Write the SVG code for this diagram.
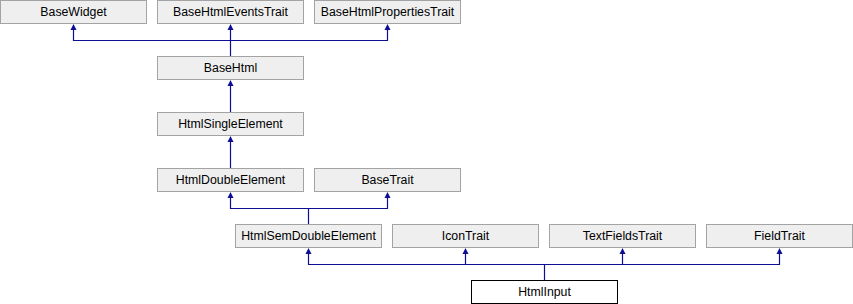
<svg xmlns="http://www.w3.org/2000/svg" width="853" height="304" viewBox="0 0 853 304">
  <style>
    .box { fill: #efefef; stroke: #a3a3a3; stroke-width: 1; }
    .main { fill: #ffffff; stroke: #000000; stroke-width: 1; }
    .label { font-family: "Liberation Sans", Arial, sans-serif; font-size: 12.3px; fill: #000000; text-anchor: middle; }
    .edge { fill: none; stroke: #0e0e92; stroke-width: 1.2; }
    .head { fill: #0e0e92; }
  </style>
  <defs>
    <!-- inheritance arrowhead, tip at origin pointing up -->
    <path id="arrow" d="M0,0 L3,6 L-3,6 Z"/>
  </defs>

  <!-- row 1 -->
  <g id="BaseWidget">
    <rect class="box" x="0.5" y="0.5" width="146" height="23"/>
    <text class="label" x="73.5" y="15.6">BaseWidget</text>
  </g>
  <g id="BaseHtmlEventsTrait">
    <rect class="box" x="157.5" y="0.5" width="146" height="23"/>
    <text class="label" x="230.5" y="15.6">BaseHtmlEventsTrait</text>
  </g>
  <g id="BaseHtmlPropertiesTrait">
    <rect class="box" x="314.5" y="0.5" width="146" height="23"/>
    <text class="label" x="387.5" y="15.6">BaseHtmlPropertiesTrait</text>
  </g>

  <!-- row 2 -->
  <g id="BaseHtml">
    <rect class="box" x="157.5" y="56.5" width="146" height="23"/>
    <text class="label" x="230.5" y="71.6">BaseHtml</text>
  </g>

  <!-- row 3 -->
  <g id="HtmlSingleElement">
    <rect class="box" x="157.5" y="112.5" width="146" height="23"/>
    <text class="label" x="230.5" y="127.6">HtmlSingleElement</text>
  </g>

  <!-- row 4 -->
  <g id="HtmlDoubleElement">
    <rect class="box" x="157.5" y="168.5" width="146" height="23"/>
    <text class="label" x="230.5" y="183.6">HtmlDoubleElement</text>
  </g>
  <g id="BaseTrait">
    <rect class="box" x="314.5" y="168.5" width="146" height="23"/>
    <text class="label" x="387.5" y="183.6">BaseTrait</text>
  </g>

  <!-- row 5 -->
  <g id="HtmlSemDoubleElement">
    <rect class="box" x="235.5" y="224.5" width="146" height="23"/>
    <text class="label" x="308.5" y="239.6">HtmlSemDoubleElement</text>
  </g>
  <g id="IconTrait">
    <rect class="box" x="392.5" y="224.5" width="146" height="23"/>
    <text class="label" x="465.5" y="239.6">IconTrait</text>
  </g>
  <g id="TextFieldsTrait">
    <rect class="box" x="549.5" y="224.5" width="146" height="23"/>
    <text class="label" x="622.5" y="239.6">TextFieldsTrait</text>
  </g>
  <g id="FieldTrait">
    <rect class="box" x="706.5" y="224.5" width="146" height="23"/>
    <text class="label" x="779.5" y="239.6">FieldTrait</text>
  </g>

  <!-- row 6 -->
  <g id="HtmlInput">
    <rect class="main" x="471.5" y="280.5" width="146" height="23"/>
    <text class="label" x="544.5" y="295.6">HtmlInput</text>
  </g>

  <!-- inheritance connectors -->
  <g id="connectors">
    <!-- BaseHtml -> row 1 -->
    <path class="edge" d="M230.5,56 V28 M73.5,28 V40.5 H387.5 V28"/>
    <use href="#arrow" class="head" x="73.5" y="24"/>
    <use href="#arrow" class="head" x="230.5" y="24"/>
    <use href="#arrow" class="head" x="387.5" y="24"/>

    <!-- HtmlSingleElement -> BaseHtml -->
    <path class="edge" d="M230.5,112 V84"/>
    <use href="#arrow" class="head" x="230.5" y="80"/>

    <!-- HtmlDoubleElement -> HtmlSingleElement -->
    <path class="edge" d="M230.5,168 V140"/>
    <use href="#arrow" class="head" x="230.5" y="136"/>

    <!-- HtmlSemDoubleElement -> HtmlDoubleElement, BaseTrait -->
    <path class="edge" d="M308.5,224 V208.5 M230.5,196 V208.5 H387.5 V196"/>
    <use href="#arrow" class="head" x="230.5" y="192"/>
    <use href="#arrow" class="head" x="387.5" y="192"/>

    <!-- HtmlInput -> row 5 -->
    <path class="edge" d="M544.5,280 V264.5 M308.5,252 V264.5 H779.5 V252 M465.5,252 V264.5 M622.5,252 V264.5"/>
    <use href="#arrow" class="head" x="308.5" y="248"/>
    <use href="#arrow" class="head" x="465.5" y="248"/>
    <use href="#arrow" class="head" x="622.5" y="248"/>
    <use href="#arrow" class="head" x="779.5" y="248"/>
  </g>
</svg>
